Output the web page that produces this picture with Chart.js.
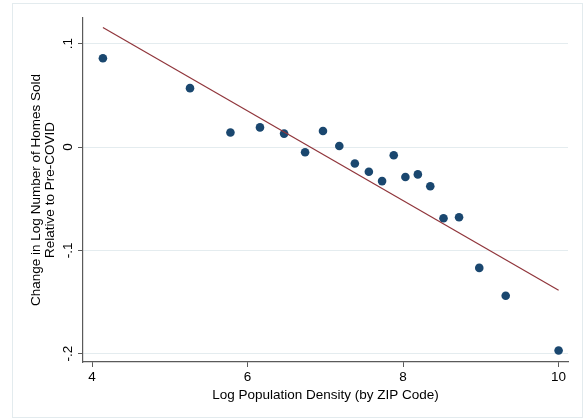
<!DOCTYPE html>
<html>
<head>
<meta charset="utf-8">
<script src="https://cdn.jsdelivr.net/npm/chart.js@4/dist/chart.umd.min.js"></script>
<style>
  html, body { margin: 0; padding: 0; background: #fff; }
  #wrap { width: 584px; height: 419px; }
</style>
</head>
<body>
<div id="wrap"><canvas id="chart" width="584" height="419"></canvas></div>
<script>
// binned scatter: log density vs change in log homes sold
const densityX = [4.14, 5.26, 5.78, 6.16, 6.47, 6.74, 6.97, 7.18, 7.38, 7.56,
                  7.73, 7.88, 8.03, 8.19, 8.35, 8.52, 8.72, 8.98, 9.32, 10.0];
const homesY = [0.086, 0.057, 0.014, 0.019, 0.013, -0.005, 0.0155, 0.001, -0.016, -0.024,
                -0.033, -0.008, -0.029, -0.0265, -0.038, -0.069, -0.068, -0.117, -0.144, -0.197];
const fitX = [4.14, 10.0];
const fitY = [0.1158, -0.1387];
const xTicks = [4, 6, 8, 10];
const yTicks = [-0.2, -0.1, 0, 0.1];
const yTickLabels = ["-.2", "-.1", "0", ".1"];

const FONT = "'Liberation Sans', Arial, Helvetica, sans-serif";
const navy = "#1a476f";
const maroon = "#90353b";
const axisGray = "#5a5a5a";

const frame = {
  id: "frame",
  beforeDraw(chart) {
    const ctx = chart.ctx;
    ctx.save();
    ctx.fillStyle = "#fff";
    ctx.fillRect(0, 0, chart.width, chart.height);
    ctx.strokeStyle = "#e3ebee";
    ctx.lineWidth = 1;
    ctx.strokeRect(12.5, 3.5, 570, 414);
    ctx.restore();
  },
  afterDraw(chart) {
    // stata-style vertical tick labels on the y axis
    const ctx = chart.ctx;
    const y = chart.scales.y;
    ctx.save();
    ctx.fillStyle = "#000";
    ctx.font = "13.5px " + FONT;
    ctx.textAlign = "center";
    ctx.textBaseline = "middle";
    yTicks.forEach((v, i) => {
      ctx.save();
      ctx.translate(68, y.getPixelForValue(v));
      ctx.rotate(-Math.PI / 2);
      ctx.fillText(yTickLabels[i], 0, 0);
      ctx.restore();
    });
    ctx.restore();
  }
};

new Chart(document.getElementById("chart"), {
  type: "scatter",
  data: {
    datasets: [
      {
        type: "line",
        data: fitX.map((x, i) => ({ x, y: fitY[i] })),
        borderColor: maroon,
        borderWidth: 1.2,
        pointRadius: 0,
        fill: false,
        order: 0
      },
      {
        data: densityX.map((x, i) => ({ x, y: homesY[i] })),
        backgroundColor: navy,
        borderColor: navy,
        pointRadius: 4.3,
        borderWidth: 0,
        order: 1
      }
    ]
  },
  options: {
    responsive: false,
    animation: false,
    devicePixelRatio: 1,
    layout: { padding: { top: 18, right: 16, left: 0, bottom: 0 } },
    plugins: { legend: { display: false }, tooltip: { enabled: false } },
    scales: {
      x: {
        type: "linear",
        min: 3.884,
        max: 10.121,
        afterBuildTicks: (s) => { s.ticks = xTicks.map((v) => ({ value: v })); },
        afterFit: (s) => { s.height = 57; },
        grid: { drawOnChartArea: false, drawTicks: true, tickLength: 5, tickColor: axisGray },
        border: { display: true, color: axisGray, width: 1.2 },
        ticks: { color: "#000", font: { family: FONT, size: 13.5 }, padding: 2, maxRotation: 0 },
        title: {
          display: true,
          text: "Log Population Density (by ZIP Code)",
          color: "#000",
          font: { family: FONT, size: 13.5 },
          padding: { top: 0, bottom: 16 }
        }
      },
      y: {
        type: "linear",
        min: -0.2081,
        max: 0.1249,
        afterBuildTicks: (s) => { s.ticks = yTicks.map((v) => ({ value: v })); },
        afterFit: (s) => { s.width = 83; },
        grid: { color: "#e4ecef", lineWidth: 1, drawTicks: true, tickLength: 5, tickColor: axisGray },
        border: { display: true, color: axisGray, width: 1.2 },
        ticks: { display: false },
        title: {
          display: true,
          text: ["Change in Log Number of Homes Sold", "Relative to Pre-COVID"],
          color: "#000",
          font: { family: FONT, size: 13.5, lineHeight: 1.0 },
          padding: { top: 30, bottom: 0 }
        }
      }
    }
  },
  plugins: [frame]
});
</script>
</body>
</html>
